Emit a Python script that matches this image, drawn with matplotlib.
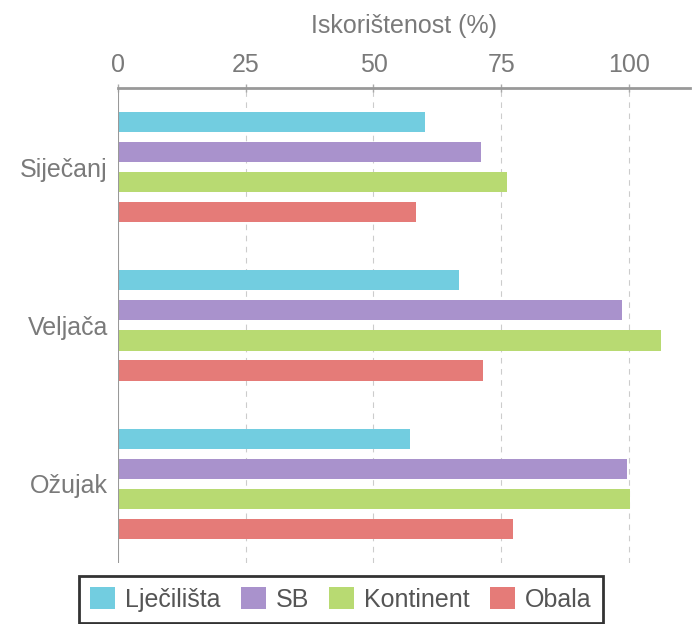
import matplotlib
matplotlib.use("Agg")
import matplotlib.pyplot as plt
import numpy as np

plt.rcParams['font.family'] = ['Liberation Sans', 'DejaVu Sans']

months = ["Siječanj", "Veljača", "Ožujak"]
series = ["Lječilišta", "SB", "Kontinent", "Obala"]
colors = ["#72cde0", "#a992cc", "#b8da72", "#e57b78"]
ljecilista = [60.1, 66.8, 57.2]
sb = [71.0, 98.6, 99.5]
kontinent = [76.0, 106.2, 100.2]
obala = [58.4, 71.4, 77.3]
xticks = [0, 25, 50, 75, 100]

values = [ljecilista, sb, kontinent, obala]
grey = "#7a7a7a"

fig = plt.figure(figsize=(6.96, 6.24), dpi=100)
ax = fig.add_axes([0.169, 0.098, 0.822, 0.761])

y = np.arange(len(months))
step = 0.19
for i, (vals, col, name) in enumerate(zip(values, colors, series)):
    ax.barh(y + (i - 1.5) * step, vals, height=0.127, color=col, label=name, zorder=3)

ax.set_ylim(len(months) - 0.5, -0.5)
ax.set_xlim(0, 111.8)
ax.set_yticks(y)
ax.set_yticklabels(months, fontsize=18, color=grey)
ax.tick_params(axis='y', length=0, pad=7)

ax.xaxis.tick_top()
ax.xaxis.set_label_position('top')
ax.set_xticks(xticks)
ax.set_xticklabels([str(t) for t in xticks], fontsize=18, color=grey)
ax.tick_params(axis='x', direction='inout', length=6, width=1, color="#aaaaaa", pad=5)
ax.set_xlabel("Iskorištenost (%)", fontsize=18, color=grey, labelpad=14)

for t in xticks[1:]:
    ax.axvline(t, color="#cccccc", lw=0.8, ls=(0, (5, 5)), zorder=1)
ax.axvline(0, color="#999999", lw=1.5, zorder=4)

for s in ["right", "bottom", "left"]:
    ax.spines[s].set_visible(False)
ax.spines["top"].set_color("#999999")
ax.spines["top"].set_linewidth(2)

leg = fig.legend(loc="lower center", bbox_to_anchor=(0.49, 0.002), borderaxespad=0,
                 ncol=4, fontsize=18, frameon=True, fancybox=False,
                 handlelength=1.0, handleheight=1.0, handletextpad=0.4,
                 columnspacing=0.8, borderpad=0.45)
leg.get_frame().set_edgecolor("black")
leg.get_frame().set_linewidth(2)
for txt in leg.get_texts():
    txt.set_color("#555555")

fig.savefig("out.png", dpi=100)
